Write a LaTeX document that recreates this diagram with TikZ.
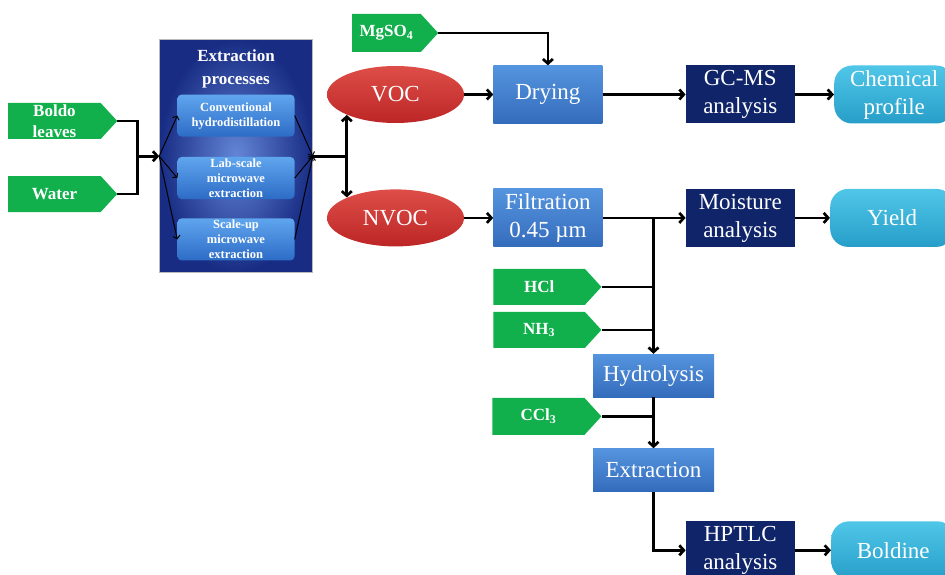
\documentclass[tikz,border=0pt]{standalone}
\usepackage{fontspec}
\setmainfont{Liberation Serif}
\usetikzlibrary{positioning, shapes.geometric, shapes.symbols, calc, arrows.meta}

\definecolor{greenc}{RGB}{18,176,76}
\definecolor{bluetop}{RGB}{85,148,222}
\definecolor{bluebot}{RGB}{52,108,188}
\definecolor{navyc}{RGB}{16,36,106}
\definecolor{cyantop}{RGB}{80,198,232}
\definecolor{cyanbot}{RGB}{38,158,200}
\definecolor{redtop}{RGB}{222,78,72}
\definecolor{redbot}{RGB}{188,38,38}
\definecolor{boxin}{RGB}{100,134,214}
\definecolor{boxout}{RGB}{24,44,132}
\definecolor{methtop}{RGB}{95,165,238}
\definecolor{methbot}{RGB}{45,108,198}

\begin{document}
\begin{tikzpicture}[x=1pt, y=-1pt, >={Straight Barb[length=4.5pt, width=10pt]},
    feed/.style={signal, signal to=east, signal pointer angle=95, fill=greenc, text=white,
        font=\fontsize{17}{21}\selectfont\bfseries, minimum width=109pt, minimum height=36pt,
        inner sep=0pt, align=center, anchor=west},
    frac/.style={ellipse, top color=redtop, bottom color=redbot, text=white,
        font=\fontsize{23}{28}\selectfont, minimum width=137pt, minimum height=57pt, inner sep=0pt},
    proc/.style={rectangle, top color=bluetop, bottom color=bluebot, text=white,
        font=\fontsize{23}{28}\selectfont, minimum width=109pt, minimum height=58pt,
        inner sep=0pt, align=center},
    assay/.style={rectangle, fill=navyc, text=white, font=\fontsize{23}{28}\selectfont,
        minimum width=109pt, minimum height=58pt, inner sep=0pt, align=center},
    result/.style={rectangle, rounded corners=18pt, top color=cyantop, bottom color=cyanbot,
        text=white, font=\fontsize{23}{28}\selectfont, minimum height=58pt, inner sep=0pt,
        align=center},
    method/.style={rectangle, rounded corners=4pt, top color=methtop, bottom color=methbot,
        text=white, font=\fontsize{12.5}{15}\selectfont\bfseries, minimum width=117pt,
        minimum height=42pt, inner sep=0pt, align=center},
    link/.style={line width=2.7pt},
    flow/.style={link, ->},
    thin flow/.style={-{Straight Barb[length=3pt, width=7pt]}, line width=1pt}]

    \useasboundingbox (0,0) rectangle (945,575);

    % volatile / non-volatile fractions
    \node[frac] (voc) at (395.5,94.5) {VOC};
    \node[frac, below=66pt of voc] (nvoc) {NVOC};
    \node[feed, minimum width=86pt, minimum height=38pt] (mgso) at (352,33) {MgSO\textsubscript{4}};

    \node[proc, right=29pt of voc] (drying) {Drying};
    \node[assay, right=83pt of drying] (gcms) {GC-MS\\analysis};
    \node[result, right=39pt of gcms, minimum width=120pt] (chem) {Chemical\\profile};

    \node[proc, right=29pt of nvoc] (filt) {Filtration\\0.45 µm};
    \node[assay, right=83pt of filt] (moist) {Moisture\\analysis};
    \node[result, right=35pt of moist, minimum width=124pt] (yield) {Yield};

    \node[feed, minimum width=108pt] (hcl) at ($(filt.west)+(0,69)$) {HCl};
    \node[feed, minimum width=108pt] (nh3) at ($(hcl.west)+(0,43)$) {NH\textsubscript{3}};
    \node[feed, minimum height=37pt] (ccl3) at ($(nh3.west)+(-1,86.5)$) {CCl\textsubscript{3}};

    \node[proc, minimum width=121pt, minimum height=43pt] (hydro) at (653.5,375.5) {Hydrolysis};
    \node[proc, minimum width=121pt, minimum height=43pt, below=51pt of hydro] (extr) {Extraction};
    \node[assay, below=274pt of moist] (hptlc) {HPTLC\\analysis};
    \node[result, right=36pt of hptlc, minimum width=124pt] (boldine) {Boldine};

    % extraction block
    \coordinate (jn) at ($(voc.west)!0.5!(nvoc.west)+(20,0)$);
    \node[rectangle, draw=gray!55, line width=0.6pt, inner color=boxin, outer color=boxout,
        minimum width=153pt, minimum height=233pt, left=34pt of jn] (ext) {};
    \node[text=white, font=\fontsize{17}{23}\selectfont\bfseries, align=center,
        below=7pt of ext.north] (exttitle) {Extraction\\processes};
    \node[method, below=55pt of ext.north] (conv) {Conventional\\hydrodistillation};
    \node[method, below=20pt of conv] (lab) {Lab-scale\\microwave\\extraction};
    \node[method, below=19pt of lab] (scale) {Scale-up\\microwave\\extraction};

    \node[feed] (boldo) at (8,121) {Boldo\\leaves};
    \node[feed] (water) at (8,194) {Water};
    \coordinate[left=22pt of ext.west] (mix);

    \draw[link] (boldo.east) -| (mix) |- (water.east);
    \draw[flow] (mix) -- (ext.west);
    \foreach \m in {conv, lab, scale} {
        \draw[thin flow] (ext.west) -- (\m.west);
        \draw[thin flow] (\m.east) -- (ext.east);
    }
    \draw[link] (ext.east) -- (jn);
    \draw[flow] (jn) -- (jn |- voc.-157);
    \draw[flow] (jn) -- (jn |- nvoc.157);

    \draw[flow] (voc) -- (drying);
    \draw[flow] (mgso.east) -| (drying.north);
    \draw[flow] (drying) -- (gcms);
    \draw[flow] (gcms) -- (chem);

    \draw[flow] (nvoc) -- (filt);
    \draw[flow] (filt) -- (moist);
    \draw[flow] (moist) -- (yield);
    \draw[flow] (hydro.north |- filt.east) -- (hydro.north);
    \draw[link] (hcl.east) -- (hcl.east -| hydro.north);
    \draw[link] (nh3.east) -- (nh3.east -| hydro.north);
    \draw[flow] (hydro) -- (extr);
    \draw[link] (ccl3.east) -- (ccl3.east -| hydro.south);
    \draw[flow] (extr.south) |- (hptlc.west);
    \draw[flow] (hptlc) -- (boldine);
\end{tikzpicture}
\end{document}
